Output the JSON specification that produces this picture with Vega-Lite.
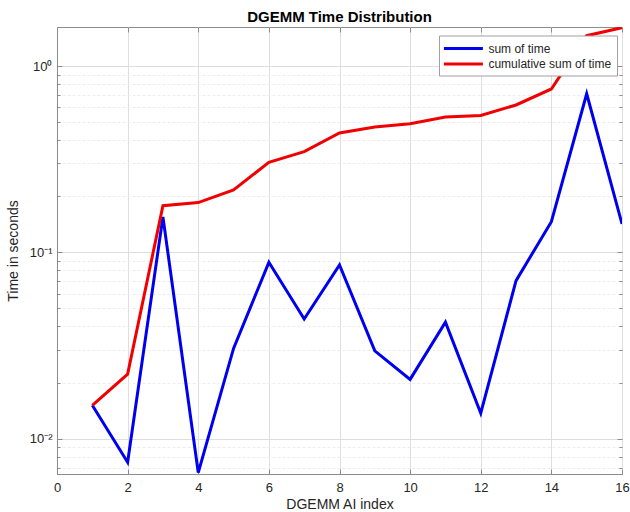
{
  "$schema": "https://vega.github.io/schema/vega-lite/v6.json",
  "autosize": "none",
  "width": 565,
  "height": 447,
  "padding": {"left": 57, "top": 27, "right": 8, "bottom": 38},
  "background": "white",
  "title": {"text": "DGEMM Time Distribution", "fontSize": 15, "fontWeight": "bold", "font": "Liberation Sans", "color": "#000000", "offset": 0, "anchor": "middle"},
  "config": {
    "view": {"stroke": "#8c8c8c", "strokeWidth": 1},
    "axis": {"labelFont": "Liberation Sans", "titleFont": "Liberation Sans", "labelColor": "#262626", "titleColor": "#262626", "titleFontWeight": "normal", "domainColor": "#8c8c8c", "tickColor": "#8c8c8c"}
  },
  "data": {"values": [
    {"index": 1, "time": 0.0151, "series": "sum of time"},
    {"index": 2, "time": 0.00747, "series": "sum of time"},
    {"index": 3, "time": 0.155, "series": "sum of time"},
    {"index": 4, "time": 0.00657, "series": "sum of time"},
    {"index": 5, "time": 0.0305, "series": "sum of time"},
    {"index": 6, "time": 0.0884, "series": "sum of time"},
    {"index": 7, "time": 0.0439, "series": "sum of time"},
    {"index": 8, "time": 0.0855, "series": "sum of time"},
    {"index": 9, "time": 0.0296, "series": "sum of time"},
    {"index": 10, "time": 0.0208, "series": "sum of time"},
    {"index": 11, "time": 0.0422, "series": "sum of time"},
    {"index": 12, "time": 0.0137, "series": "sum of time"},
    {"index": 13, "time": 0.0705, "series": "sum of time"},
    {"index": 14, "time": 0.146, "series": "sum of time"},
    {"index": 15, "time": 0.71, "series": "sum of time"},
    {"index": 16, "time": 0.142, "series": "sum of time"},
    {"index": 1, "time": 0.0151, "series": "cumulative sum of time"},
    {"index": 2, "time": 0.0222, "series": "cumulative sum of time"},
    {"index": 3, "time": 0.178, "series": "cumulative sum of time"},
    {"index": 4, "time": 0.185, "series": "cumulative sum of time"},
    {"index": 5, "time": 0.216, "series": "cumulative sum of time"},
    {"index": 6, "time": 0.304, "series": "cumulative sum of time"},
    {"index": 7, "time": 0.347, "series": "cumulative sum of time"},
    {"index": 8, "time": 0.437, "series": "cumulative sum of time"},
    {"index": 9, "time": 0.471, "series": "cumulative sum of time"},
    {"index": 10, "time": 0.49, "series": "cumulative sum of time"},
    {"index": 11, "time": 0.532, "series": "cumulative sum of time"},
    {"index": 12, "time": 0.543, "series": "cumulative sum of time"},
    {"index": 13, "time": 0.618, "series": "cumulative sum of time"},
    {"index": 14, "time": 0.753, "series": "cumulative sum of time"},
    {"index": 15, "time": 1.455, "series": "cumulative sum of time"},
    {"index": 16, "time": 1.607, "series": "cumulative sum of time"}
  ]},
  "resolve": {"axis": {"x": "independent", "y": "independent"}},
  "layer": [
    {
      "mark": {"type": "line", "strokeWidth": 3, "clip": true, "strokeJoin": "miter"},
      "encoding": {
        "x": {"field": "index", "type": "quantitative",
          "scale": {"domain": [0, 16], "nice": false, "zero": false},
          "axis": {"orient": "bottom", "values": [0, 2, 4, 6, 8, 10, 12, 14, 16], "title": "DGEMM AI index", "titleFontSize": 14, "labelFontSize": 13, "tickSize": -5, "labelPadding": 12, "grid": true, "gridColor": "#dedede", "titleBaseline": "middle", "titleY": 30, "titleX": 282.5, "labelFlush": false}},
        "y": {"field": "time", "type": "quantitative",
          "scale": {"type": "log", "domain": [0.00646, 1.62], "nice": false},
          "axis": {"orient": "left", "values": [0.007, 0.008, 0.009, 0.01, 0.02, 0.03, 0.04, 0.05, 0.06, 0.07, 0.08, 0.09, 0.1, 0.2, 0.3, 0.4, 0.5, 0.6, 0.7, 0.8, 0.9, 1],
            "labelExpr": "datum.value == 1 ? '10⁰' : (datum.value == 0.1 ? '10⁻¹' : (datum.value == 0.01 ? '10⁻²' : ''))",
            "labelFontSize": 13, "labelPadding": 10, "labelFlush": false,
            "tickSize": {"condition": {"test": "datum.value == 1 || datum.value == 0.1 || datum.value == 0.01", "value": -5}, "value": -3},
            "grid": true,
            "gridColor": {"condition": {"test": "datum.value == 1 || datum.value == 0.1 || datum.value == 0.01", "value": "#dedede"}, "value": "#ececec"},
            "gridDash": {"condition": {"test": "datum.value == 1 || datum.value == 0.1 || datum.value == 0.01", "value": []}, "value": [3, 2]},
            "title": "Time in seconds", "titleFontSize": 14, "titleBaseline": "middle", "titleX": -44, "titleY": 223.5}},
        "color": {"field": "series", "type": "nominal",
          "scale": {"domain": ["sum of time", "cumulative sum of time"], "range": ["#0000f0", "#f00000"]},
          "legend": {"orient": "none", "legendX": 382, "legendY": 8.5, "title": null, "symbolType": "M-3,0H3", "symbolSize": 169, "symbolStrokeWidth": 3, "symbolOffset": 11.4, "symbolFillColor": "transparent", "labelFontSize": 12, "labelFont": "Liberation Sans", "labelColor": "#262626", "strokeColor": "#a0a0a0", "fillColor": "white", "padding": 5, "rowPadding": 1.4, "labelOffset": 17, "labelLimit": 300}}
      }
    },
    {
      "mark": {"type": "point", "opacity": 0},
      "encoding": {
        "x": {"field": "index", "type": "quantitative",
          "axis": {"orient": "top", "values": [0, 2, 4, 6, 8, 10, 12, 14, 16], "labels": false, "title": null, "grid": false, "domain": false, "tickSize": -5}},
        "y": {"field": "time", "type": "quantitative",
          "axis": {"orient": "right", "values": [0.007, 0.008, 0.009, 0.01, 0.02, 0.03, 0.04, 0.05, 0.06, 0.07, 0.08, 0.09, 0.1, 0.2, 0.3, 0.4, 0.5, 0.6, 0.7, 0.8, 0.9, 1], "labels": false, "title": null, "grid": false, "domain": false,
            "tickSize": {"condition": {"test": "datum.value == 1 || datum.value == 0.1 || datum.value == 0.01", "value": -5}, "value": -3}}}
      }
    }
  ]
}
